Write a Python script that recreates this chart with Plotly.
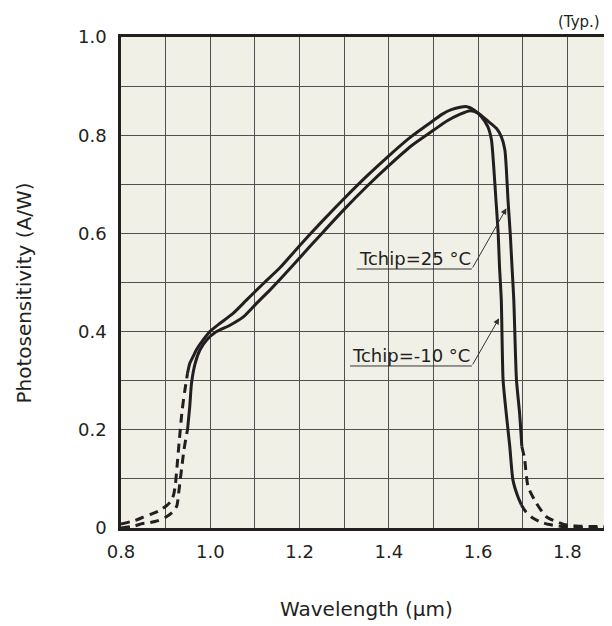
import plotly.graph_objects as go

# ---------------- data ----------------
# Tchip = -10 °C
m10_lo_wl = [0.80, 0.83, 0.85, 0.867, 0.885, 0.903, 0.912, 0.918, 0.922, 0.926, 0.930, 0.937, 0.943, 0.949]
m10_lo_v = [0.008, 0.015, 0.022, 0.028, 0.035, 0.046, 0.055, 0.068, 0.09, 0.13, 0.172, 0.24, 0.28, 0.315]
m10_wl = [0.949, 0.954, 0.962, 0.969, 0.984, 0.999, 1.022, 1.051, 1.081, 1.119, 1.156, 1.2, 1.25, 1.3,
          1.35, 1.4, 1.45, 1.5, 1.52, 1.54, 1.56, 1.575, 1.59, 1.607, 1.622, 1.630, 1.635, 1.640, 1.645,
          1.648, 1.652, 1.656, 1.663, 1.671, 1.678, 1.689, 1.697]
m10_v = [0.315, 0.335, 0.35, 0.363, 0.383, 0.40, 0.417, 0.437, 0.464, 0.498, 0.530, 0.575, 0.624, 0.671,
         0.716, 0.758, 0.797, 0.830, 0.843, 0.852, 0.857, 0.858, 0.852, 0.838, 0.817, 0.79, 0.736, 0.668,
         0.60, 0.532, 0.464, 0.301, 0.234, 0.166, 0.098, 0.064, 0.047]
m10_hi_wl = [1.697, 1.707, 1.72, 1.738, 1.76, 1.779, 1.80, 1.85, 1.90]
m10_hi_v = [0.047, 0.033, 0.022, 0.013, 0.007, 0.004, 0.002, 0.001, 0.0]

# Tchip = 25 °C
p25_lo_wl = [0.80, 0.83, 0.848, 0.865, 0.883, 0.90, 0.915, 0.925, 0.929, 0.933, 0.937, 0.941, 0.946, 0.949]
p25_lo_v = [0.0, 0.004, 0.009, 0.011, 0.015, 0.022, 0.032, 0.045, 0.07, 0.10, 0.13, 0.159, 0.186, 0.2]
p25_wl = [0.949, 0.954, 0.958, 0.966, 0.977, 0.992, 1.014, 1.044, 1.074, 1.104, 1.134, 1.156, 1.2, 1.25,
          1.3, 1.35, 1.4, 1.45, 1.5, 1.53, 1.56, 1.582, 1.60, 1.619, 1.641, 1.652, 1.660, 1.663, 1.667,
          1.672, 1.676, 1.680, 1.686, 1.693, 1.698]
p25_v = [0.2, 0.247, 0.295, 0.335, 0.363, 0.383, 0.40, 0.413, 0.430, 0.458, 0.485, 0.506, 0.550, 0.600,
         0.649, 0.695, 0.738, 0.778, 0.810, 0.829, 0.843, 0.850, 0.845, 0.831, 0.814, 0.797, 0.77, 0.736,
         0.668, 0.60, 0.532, 0.464, 0.301, 0.234, 0.166]
p25_hi_wl = [1.698, 1.704, 1.712, 1.731, 1.753, 1.79, 1.82, 1.86, 1.90]
p25_hi_v = [0.166, 0.142, 0.084, 0.05, 0.023, 0.008, 0.004, 0.003, 0.002]

x_tickvals = [0.8, 1.0, 1.2, 1.4, 1.6, 1.8]
x_ticktext = ["0.8", "1.0", "1.2", "1.4", "1.6", "1.8"]
y_tickvals = [0, 0.2, 0.4, 0.6, 0.8, 1.0]
y_ticktext = ["0", "0.2", "0.4", "0.6", "0.8", "1.0"]

labels = ["Tchip=25 °C", "Tchip=-10 °C"]
# label placement: underline start, underline end (wavelength), underline level, arrow tip
label_x0 = [1.328, 1.313]
label_x1 = [1.586, 1.586]
label_y = [0.5275, 0.330]
tip_x = [1.6635, 1.647]
tip_y = [0.651, 0.427]

# ---------------- figure ----------------
INK = "#231f20"
FONT = "DejaVu Sans"
dash = "9px,6px"

fig = go.Figure()
for wl, v, d in [(m10_lo_wl, m10_lo_v, dash), (m10_wl, m10_v, "solid"), (m10_hi_wl, m10_hi_v, dash),
                 (p25_lo_wl, p25_lo_v, dash), (p25_wl, p25_v, "solid"), (p25_hi_wl, p25_hi_v, dash)]:
    fig.add_trace(go.Scatter(x=wl, y=v, mode="lines",
                             line=dict(color=INK, width=3, dash=d, shape="spline", smoothing=0.6),
                             showlegend=False, hoverinfo="skip"))

shapes = []
annotations = []
for i, txt in enumerate(labels):
    shapes.append(dict(type="line", xref="x", yref="y", x0=label_x0[i], x1=label_x1[i], y0=label_y[i], y1=label_y[i],
                       line=dict(color="#333333", width=1)))
    annotations.append(dict(x=tip_x[i], y=tip_y[i], ax=label_x1[i], ay=label_y[i], xref="x", yref="y",
                            axref="x", ayref="y", text="", showarrow=True, arrowhead=2, arrowsize=1.2,
                            arrowwidth=1, arrowcolor="#333333", standoff=0))
    annotations.append(dict(x=label_x0[i], y=label_y[i], xref="x", yref="y", text=txt, showarrow=False,
                            xanchor="left", yanchor="bottom", yshift=-2,
                            font=dict(family=FONT, size=18, color=INK)))

annotations.append(dict(x=0.5, y=-0.165, xref="paper", yref="paper", text="Wavelength (µm)", showarrow=False,
                        xanchor="center", yanchor="middle", font=dict(family=FONT, size=20, color=INK)))
annotations.append(dict(x=-0.198, y=0.479, xref="paper", yref="paper", text="Photosensitivity (A/W)",
                        showarrow=False, textangle=-90, xanchor="center", yanchor="middle",
                        font=dict(family=FONT, size=20, color=INK)))
annotations.append(dict(x=0.979, y=1.0305, xref="paper", yref="paper", text="(Typ.)", showarrow=False,
                        xanchor="right", yanchor="middle", font=dict(family=FONT, size=15, color=INK)))

grid = "#505050"
fig.update_layout(
    width=604, height=618,
    margin=dict(l=113, r=0, t=29, b=98, autoexpand=False),
    paper_bgcolor="white", plot_bgcolor="#f1f0e7",
    font=dict(family=FONT, size=18, color=INK),
    shapes=shapes, annotations=annotations,
    xaxis=dict(range=[0.8, 1.9], tickmode="array", tickvals=x_tickvals, ticktext=x_ticktext,
               showgrid=True, gridcolor=grid, gridwidth=1, zeroline=False,
               minor=dict(tick0=0.8, dtick=0.1, showgrid=True, gridcolor=grid, gridwidth=1),
               showline=True, linecolor=INK, linewidth=2.5, mirror=True, ticks="", ticklabelstandoff=6,
               automargin=False),
    yaxis=dict(range=[0, 1.0], tickmode="array", tickvals=y_tickvals, ticktext=y_ticktext,
               showgrid=True, gridcolor=grid, gridwidth=1, zeroline=False,
               minor=dict(tick0=0, dtick=0.1, showgrid=True, gridcolor=grid, gridwidth=1),
               showline=True, linecolor=INK, linewidth=2.5, ticks="", ticklabelstandoff=8,
               automargin=False),
)

fig.write_html("out.html")
